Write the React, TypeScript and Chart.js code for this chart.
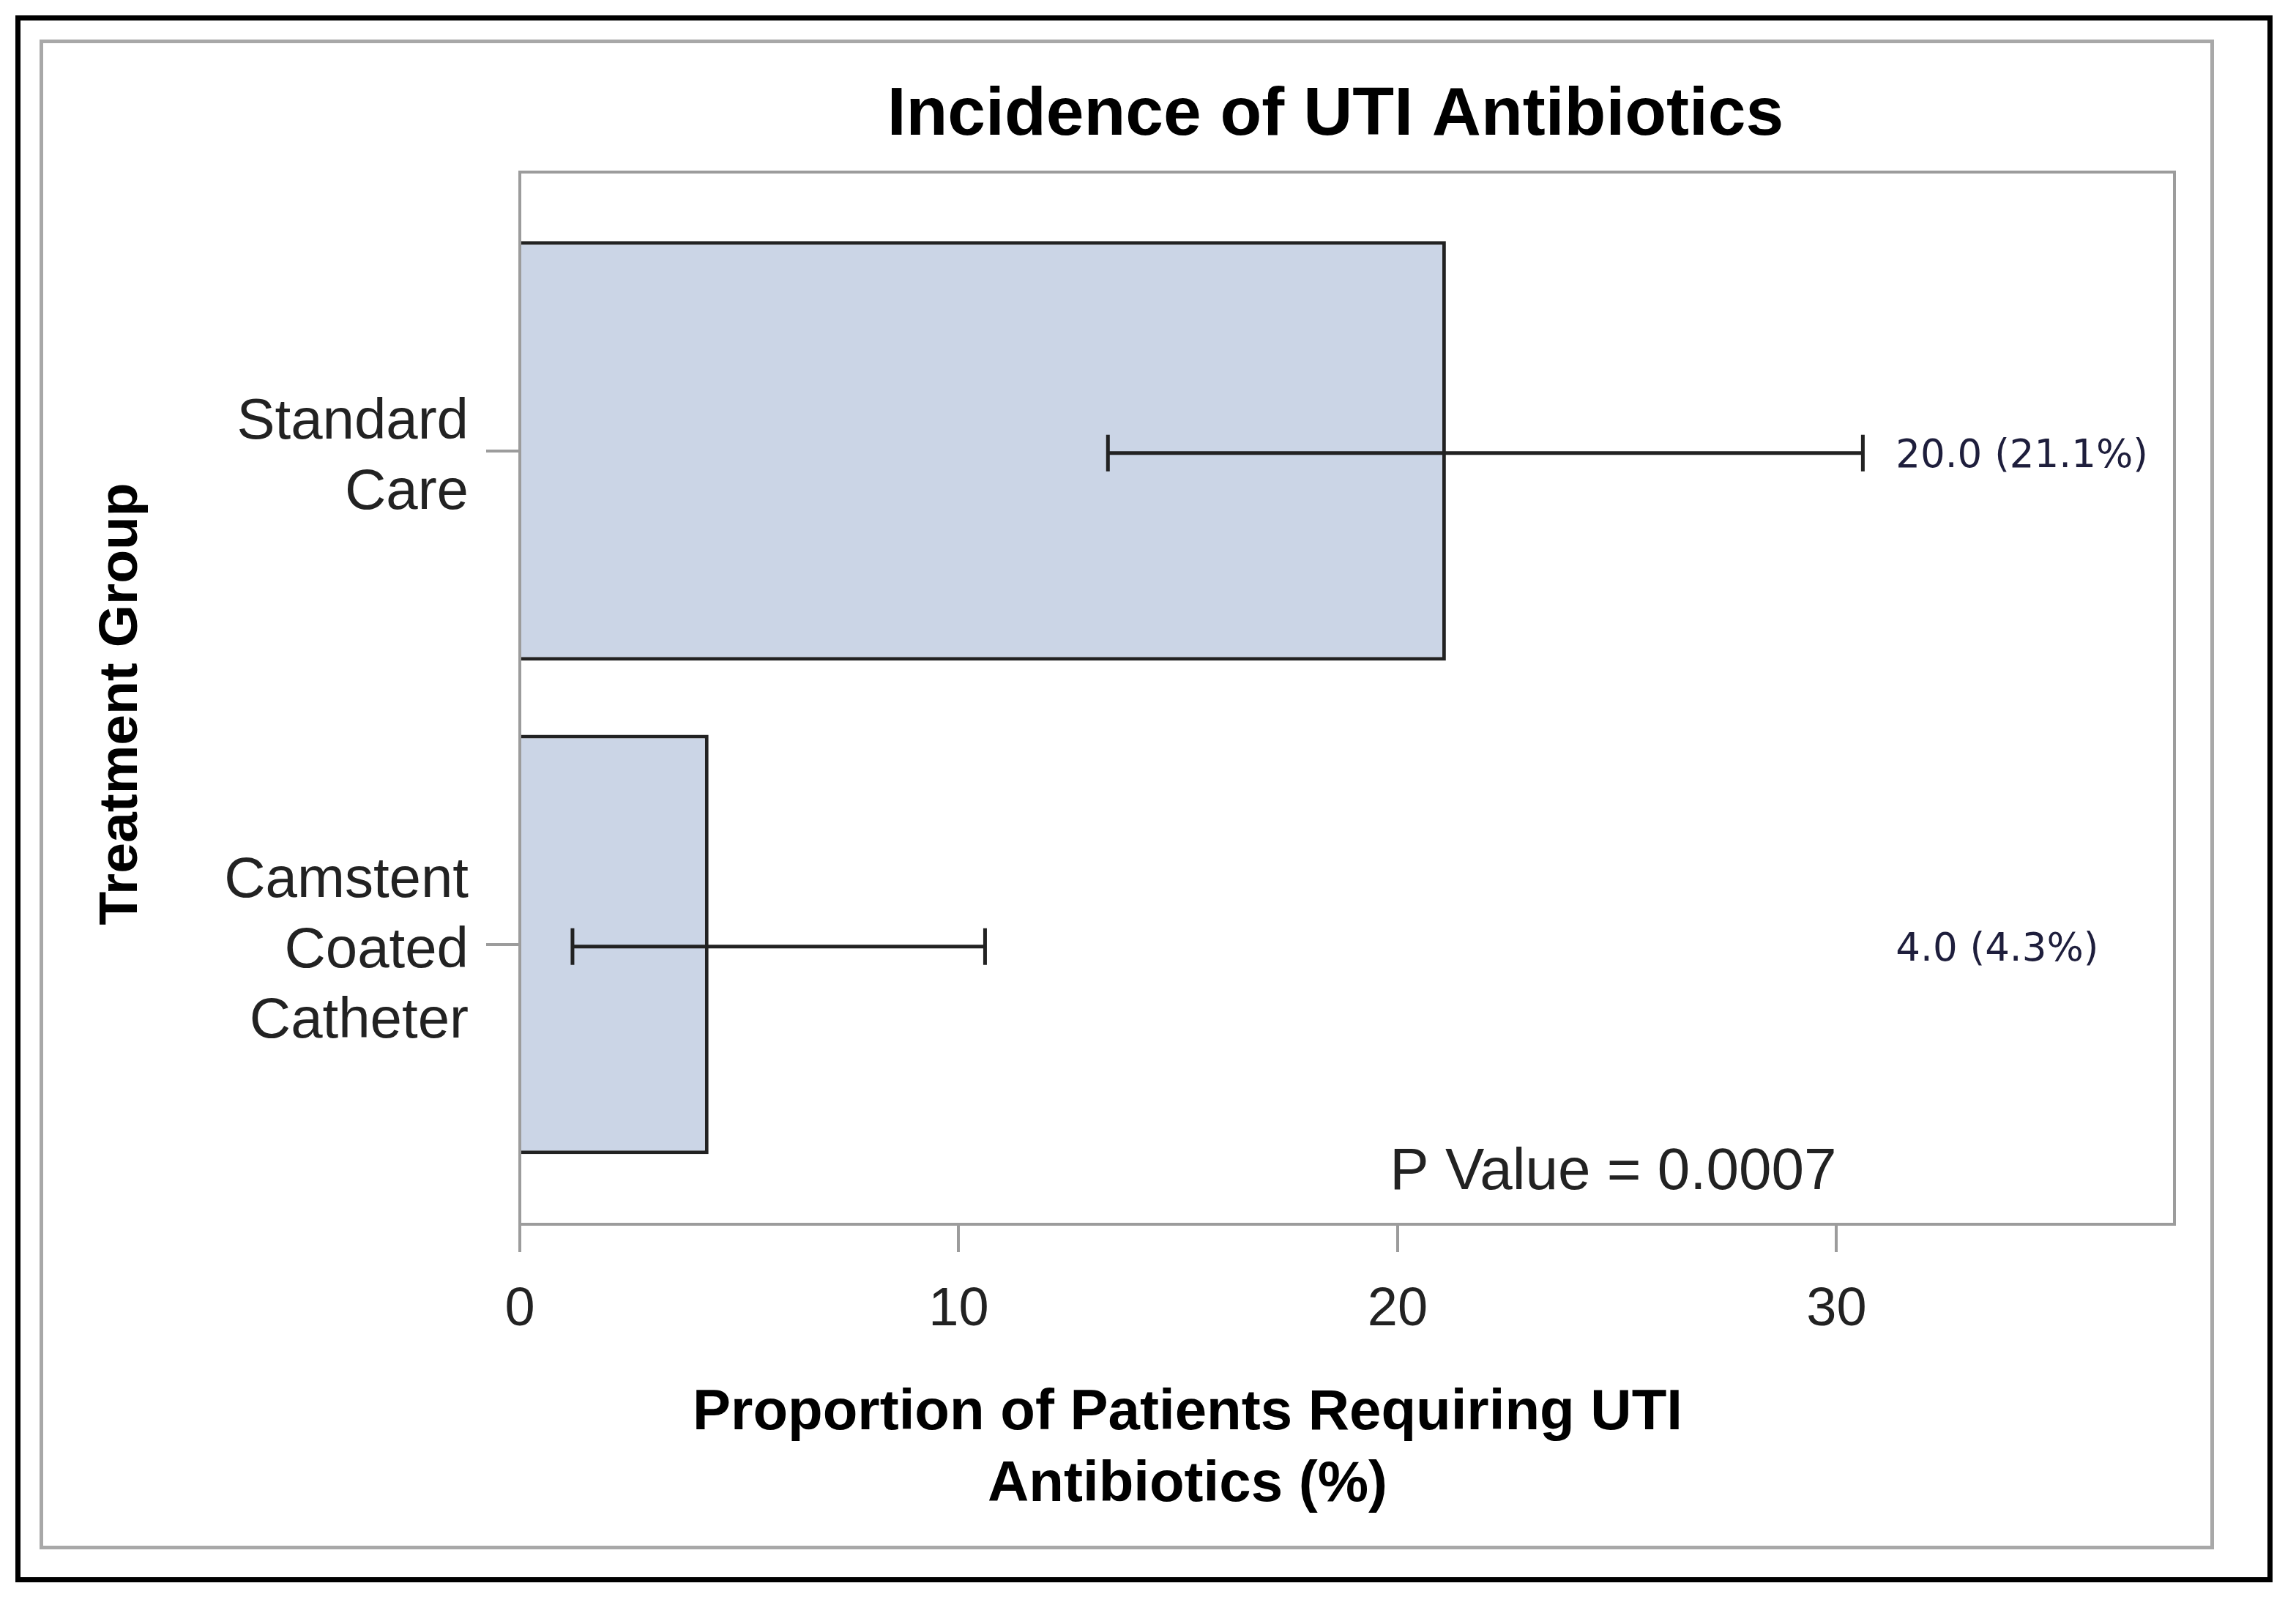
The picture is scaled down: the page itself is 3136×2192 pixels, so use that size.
import { useEffect, useRef } from 'react';
import { Chart, registerables } from 'chart.js';

Chart.register(...registerables);

const categories = [
  ['Standard', 'Care'],
  ['Camstent', 'Coated', 'Catheter'],
];
const proportions = [21.1, 4.3];
const ciLower = [13.4, 1.2];
const ciUpper = [30.6, 10.6];
const counts = [20, 4];
const xTicks = [0, 10, 20, 30];
const xMax = 37.7;
const pValue = '0.0007';

const ARIAL = '"Liberation Sans", Arial, sans-serif';
const INK = '#222222';
const AXIS_GRAY = '#9c9c9c';

const overlay = {
  id: 'overlay',
  beforeDatasetsDraw(chart: Chart) {
    const { ctx, chartArea: a } = chart;
    ctx.save();
    ctx.strokeStyle = AXIS_GRAY;
    ctx.lineWidth = 4;
    ctx.strokeRect(a.left, a.top, a.right - a.left, a.bottom - a.top);
    ctx.restore();
  },
  afterDatasetsDraw(chart: Chart) {
    const { ctx } = chart;
    const x = chart.scales.x;
    const y = chart.scales.y;
    ctx.save();
    ctx.strokeStyle = INK;
    ctx.lineWidth = 5;
    proportions.forEach((_, i) => {
      const py = y.getPixelForValue(i) + 3;
      const x0 = x.getPixelForValue(ciLower[i]);
      const x1 = x.getPixelForValue(ciUpper[i]);
      ctx.beginPath();
      ctx.moveTo(x0, py);
      ctx.lineTo(x1, py);
      ctx.moveTo(x0, py - 25);
      ctx.lineTo(x0, py + 25);
      ctx.moveTo(x1, py - 25);
      ctx.lineTo(x1, py + 25);
      ctx.stroke();
    });
    ctx.restore();
  },
  afterDraw(chart: Chart) {
    const { ctx, chartArea: a } = chart;
    const x = chart.scales.x;
    const y = chart.scales.y;
    ctx.save();

    // value labels at the right
    ctx.font = '53px "DejaVu Sans", sans-serif';
    ctx.fillStyle = '#1e1e3c';
    ctx.textAlign = 'left';
    ctx.textBaseline = 'middle';
    proportions.forEach((p, i) => {
      ctx.fillText(
        `${counts[i].toFixed(1)} (${p.toFixed(1)}%)`,
        x.getPixelForValue(31.35),
        y.getPixelForValue(i) + 8
      );
    });

    // p value
    ctx.font = `80px ${ARIAL}`;
    ctx.fillStyle = INK;
    ctx.textAlign = 'right';
    ctx.fillText(`P Value = ${pValue}`, x.getPixelForValue(30), a.bottom - 70);

    // title
    ctx.fillStyle = '#000';
    ctx.font = `bold 93px ${ARIAL}`;
    ctx.textAlign = 'center';
    ctx.textBaseline = 'alphabetic';
    ctx.fillText('Incidence of UTI Antibiotics', (a.left + a.right) / 2 - 16, 184);

    // x axis title
    ctx.font = `bold 78px ${ARIAL}`;
    ctx.textBaseline = 'middle';
    ctx.fillText('Proportion of Patients Requiring UTI', 1622, a.bottom + 258);
    ctx.fillText('Antibiotics (%)', 1622, a.bottom + 356);

    // y axis title
    ctx.font = `bold 75px ${ARIAL}`;
    ctx.translate(166, (a.top + a.bottom) / 2 + 8);
    ctx.rotate(-Math.PI / 2);
    ctx.fillText('Treatment Group', 0, 0);

    ctx.restore();
  },
};

function IncidenceChart() {
  const canvasRef = useRef<HTMLCanvasElement>(null);
  const chartRef = useRef<Chart | null>(null);

  useEffect(() => {
    if (!canvasRef.current) return;
    if (chartRef.current) chartRef.current.destroy();

    chartRef.current = new Chart(canvasRef.current, {
      type: 'bar',
      data: {
        datasets: [
          {
            data: proportions.map((v, i) => ({ x: v, y: i })),
            backgroundColor: '#cbd5e6',
            borderColor: INK,
            borderWidth: 5,
            borderSkipped: 'start',
            barPercentage: 0.85,
            categoryPercentage: 1,
          },
        ],
      },
      options: {
        indexAxis: 'y',
        responsive: false,
        devicePixelRatio: 1,
        animation: false,
        layout: { padding: { left: 0, right: 166, top: 235, bottom: 0 } },
        scales: {
          x: {
            type: 'linear',
            min: 0,
            max: xMax,
            afterBuildTicks: (scale) => {
              scale.ticks = xTicks.map((v) => ({ value: v }));
            },
            afterFit: (scale) => {
              scale.height = 520;
            },
            border: { display: false },
            grid: {
              drawOnChartArea: false,
              tickLength: 38,
              color: AXIS_GRAY,
              lineWidth: 4,
            },
            ticks: {
              font: { family: ARIAL, size: 74 },
              color: INK,
              padding: 35,
              maxRotation: 0,
            },
          },
          y: {
            type: 'linear',
            reverse: true,
            offset: false,
            min: -0.565,
            max: 1.567,
            afterBuildTicks: (scale) => {
              scale.ticks = categories.map((_, i) => ({ value: i }));
            },
            afterFit: (scale) => {
              scale.width = 710;
            },
            border: { display: false },
            grid: {
              offset: false,
              drawOnChartArea: false,
              tickLength: 46,
              color: AXIS_GRAY,
              lineWidth: 4,
            },
            ticks: {
              font: { family: ARIAL, size: 78, lineHeight: 1.23 },
              color: INK,
              padding: 24,
              labelOffset: 10,
              callback: (value) => categories[Number(value)] ?? '',
            },
          },
        },
        plugins: {
          legend: { display: false },
          tooltip: { enabled: false },
        },
      },
      plugins: [overlay],
    });

    return () => {
      chartRef.current?.destroy();
      chartRef.current = null;
    };
  }, []);

  return <canvas ref={canvasRef} width={3136} height={2192} style={{ display: 'block' }} />;
}

export default function App() {
  return (
    <div
      style={{
        position: 'absolute',
        left: 0,
        top: 0,
        width: 3136,
        height: 2192,
        background: '#fff',
        overflow: 'hidden',
      }}
    >
      <IncidenceChart />
      <div
        style={{
          position: 'absolute',
          left: 21,
          top: 21,
          width: 3083,
          height: 2140,
          border: '7px solid #000',
          boxSizing: 'border-box',
          pointerEvents: 'none',
        }}
      />
      <div
        style={{
          position: 'absolute',
          left: 54,
          top: 54,
          width: 2970,
          height: 2062,
          border: '5px solid #a8a8a8',
          boxSizing: 'border-box',
          pointerEvents: 'none',
        }}
      />
    </div>
  );
}
